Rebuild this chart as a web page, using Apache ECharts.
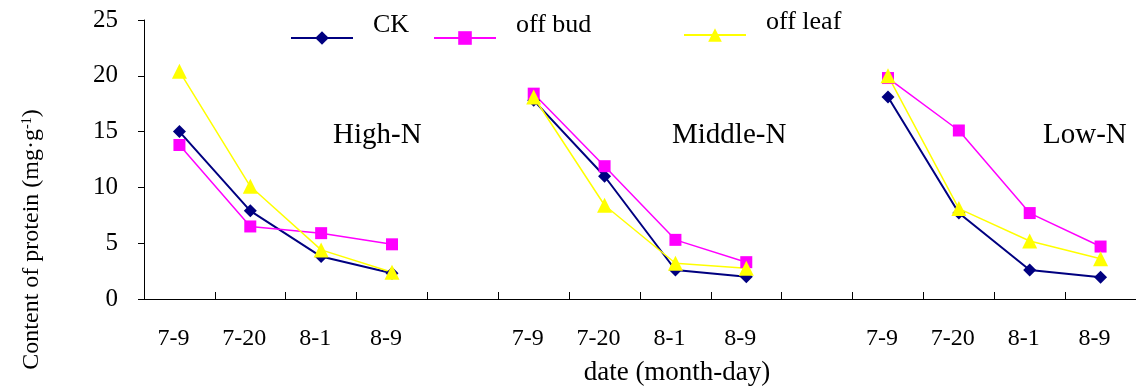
<!DOCTYPE html>
<html>
<head>
<meta charset="utf-8">
<script src="https://cdn.jsdelivr.net/npm/echarts@6/dist/echarts.min.js"></script>
<style>html,body{margin:0;padding:0;background:#fff;}#c{width:1136px;height:392px;}</style>
</head>
<body>
<div id="c"></div>
<script>
// Categories: four sampling dates per nitrogen level, with an empty slot between levels
const dates = ['7-9', '7-20', '8-1', '8-9'];
const groupNames = ['High-N', 'Middle-N', 'Low-N'];
const categories = ['7-9', '7-20', '8-1', '8-9', '', '7-9', '7-20', '8-1', '8-9', '', '7-9', '7-20', '8-1', '8-9'];
const seriesNames = ['CK', 'off bud', 'off leaf'];
const ckValues      = [15.0, 7.9, 3.8, 2.3, null, 17.8, 11.0, 2.6, 2.0, null, 18.1, 7.7, 2.6, 1.95];
const offBudValues  = [13.8, 6.5, 5.9, 4.9, null, 18.4, 11.9, 5.3, 3.3, null, 19.8, 15.1, 7.7, 4.7];
const offLeafValues = [20.4, 10.1, 4.4, 2.4, null, 18.1, 8.4, 3.2, 2.75, null, 20.0, 8.1, 5.2, 3.6];
const yTicks = [0, 5, 10, 15, 20, 25];

const FONT = '"Liberation Serif", "Times New Roman", serif';
const chart = echarts.init(document.getElementById('c'), null, {renderer: 'canvas'});

function legendFor(name, left, top) {
  return {
    data: [name], left: left, top: top, orient: 'horizontal',
    itemWidth: 62, itemHeight: 17, selectedMode: false,
    formatter: function (n) { return n + '\n '; },
    textStyle: {fontFamily: FONT, fontSize: 26, lineHeight: 26, color: '#000', padding: [0, 0, 0, 15]}
  };
}

const option = {
  animation: false,
  backgroundColor: '#fff',
  grid: {left: 144, top: 20, width: 997, height: 279, containLabel: false},
  legend: [
    legendFor(seriesNames[0], 285, 7),
    legendFor(seriesNames[1], 428, 7),
    legendFor(seriesNames[2], 678, 4)
  ],
  xAxis: {
    type: 'category',
    data: categories,
    boundaryGap: true,
    axisLine: {show: true, lineStyle: {color: '#000', width: 1}},
    axisTick: {show: true, inside: true, length: 7, interval: 0, lineStyle: {color: '#000'}},
    axisLabel: {interval: 0, margin: 28, fontFamily: FONT, fontSize: 24, color: '#000', padding: [0, 12, 0, 0]},
    splitLine: {show: false},
    name: 'date (month-day)',
    nameLocation: 'middle',
    nameGap: 60,
    nameTextStyle: {fontFamily: FONT, fontSize: 27, color: '#000', padding: [0, 0, 0, 74]}
  },
  yAxis: {
    type: 'value',
    min: yTicks[0], max: yTicks[yTicks.length - 1], interval: 5,
    axisLine: {show: true, lineStyle: {color: '#000', width: 1}},
    axisTick: {show: true, inside: false, length: 6, lineStyle: {color: '#000'}},
    axisLabel: {margin: 26, fontFamily: FONT, fontSize: 25, color: '#000'},
    splitLine: {show: false},
    name: 'Content of protein (mg·g{sup|-1})',
    nameLocation: 'middle',
    nameRotate: 90,
    nameGap: 100,
    nameTextStyle: {
      fontFamily: FONT, fontSize: 24, color: '#000', padding: [0, 160, 0, 0],
      rich: {sup: {fontFamily: FONT, fontSize: 14, color: '#000', verticalAlign: 'top'}}
    }
  },
  series: [
    {name: seriesNames[0], type: 'line', data: ckValues, connectNulls: false,
     symbol: 'diamond', symbolSize: 13, lineStyle: {color: '#000080', width: 2},
     itemStyle: {color: '#000080'}},
    {name: seriesNames[1], type: 'line', data: offBudValues, connectNulls: false,
     symbol: 'rect', symbolSize: 12, lineStyle: {color: '#FF00FF', width: 1.5},
     itemStyle: {color: '#FF00FF'}},
    {name: seriesNames[2], type: 'line', data: offLeafValues, connectNulls: false,
     symbol: 'triangle', symbolSize: 15, lineStyle: {color: '#FFFF00', width: 1.5},
     itemStyle: {color: '#FFFF00'}}
  ],
  graphic: [
    {type: 'text', left: 333, top: 121, style: {text: groupNames[0], font: '29px ' + FONT, fill: '#000'}},
    {type: 'text', left: 672, top: 121, style: {text: groupNames[1], font: '29px ' + FONT, fill: '#000'}},
    {type: 'text', left: 1043, top: 121, style: {text: groupNames[2], font: '29px ' + FONT, fill: '#000'}}
  ]
};
chart.setOption(option);
</script>
</body>
</html>
